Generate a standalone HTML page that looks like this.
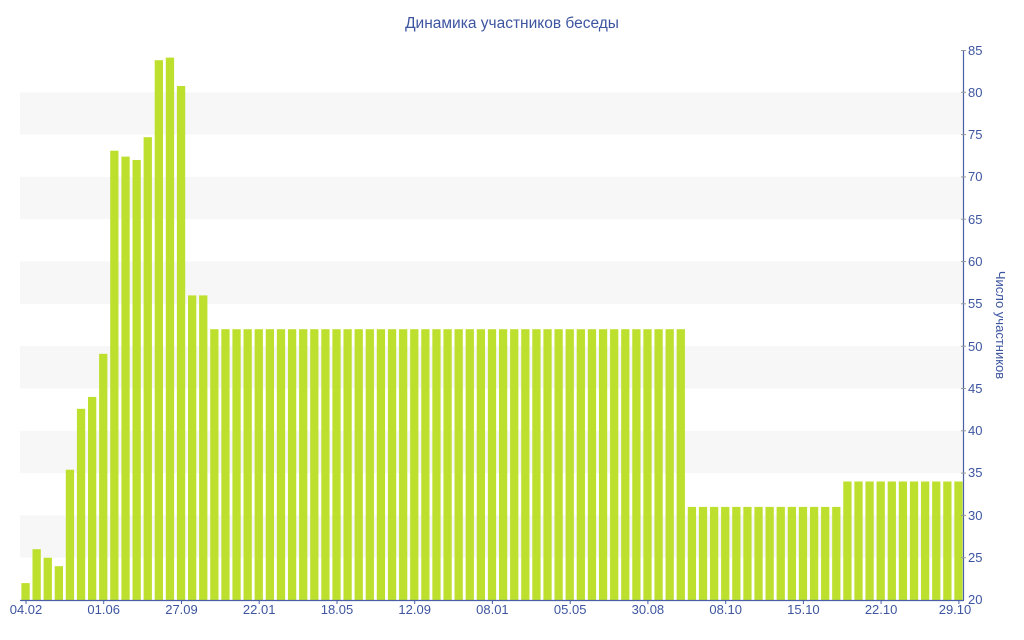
<!DOCTYPE html>
<html><head><meta charset="utf-8"><style>
html,body{margin:0;padding:0;background:#fff;}
svg{display:block;font-family:"Liberation Sans","DejaVu Sans",sans-serif;}
</style></head><body>
<svg width="1024" height="640" viewBox="0 0 1024 640" xmlns="http://www.w3.org/2000/svg">
<defs>
<pattern id="bp" x="20" y="0" width="11.106" height="640" patternUnits="userSpaceOnUse">
<rect x="1.4" y="0" width="8.3" height="640" fill="#bde02e"/>
</pattern>
</defs>
<g fill="#f7f7f7">
<rect x="20" y="92.3" width="944" height="42.3"/>
<rect x="20" y="176.9" width="944" height="42.3"/>
<rect x="20" y="261.5" width="944" height="42.3"/>
<rect x="20" y="346.2" width="944" height="42.3"/>
<rect x="20" y="430.8" width="944" height="42.3"/>
<rect x="20" y="515.4" width="944" height="42.3"/>
</g>
<text x="512" y="28" text-anchor="middle" font-size="15.5" fill="#3d55a0">Динамика участников беседы</text>
<g fill="#bde02e">
<rect x="21.4" y="583.1" width="8.3" height="16.9"/>
<rect x="32.5" y="549.2" width="8.3" height="50.8"/>
<rect x="43.6" y="557.7" width="8.3" height="42.3"/>
<rect x="54.7" y="566.2" width="8.3" height="33.8"/>
<rect x="65.8" y="469.7" width="8.3" height="130.3"/>
<rect x="76.9" y="408.8" width="8.3" height="191.2"/>
<rect x="88.0" y="396.9" width="8.3" height="203.1"/>
<rect x="99.1" y="353.8" width="8.3" height="246.2"/>
<rect x="110.2" y="150.7" width="8.3" height="449.3"/>
<rect x="121.4" y="156.6" width="8.3" height="443.4"/>
<rect x="132.5" y="160" width="8.3" height="440"/>
<rect x="143.6" y="137.2" width="8.3" height="462.8"/>
<rect x="154.7" y="60.2" width="8.3" height="539.8"/>
<rect x="165.8" y="57.6" width="8.3" height="542.4"/>
<rect x="176.9" y="86" width="8.3" height="514"/>
<rect x="188.0" y="295.4" width="8.3" height="304.6"/>
<rect x="199.1" y="295.4" width="8.3" height="304.6"/>
</g>
<rect x="208.8" y="329.2" width="477.6" height="270.8" fill="url(#bp)"/>
<rect x="686.4" y="506.9" width="155.4" height="93.1" fill="url(#bp)"/>
<rect x="841.8" y="481.5" width="122.2" height="118.5" fill="url(#bp)"/>
<g stroke="#4a5fa8" stroke-width="1.2">
<line x1="20" y1="600.5" x2="964" y2="600.5"/>
<line x1="963.5" y1="50" x2="963.5" y2="600"/>
</g>
<g stroke="#4a5fa8" stroke-width="1">
<line x1="26" y1="600" x2="26" y2="604"/>
<line x1="103.7" y1="600" x2="103.7" y2="604"/>
<line x1="181.5" y1="600" x2="181.5" y2="604"/>
<line x1="259.2" y1="600" x2="259.2" y2="604"/>
<line x1="337" y1="600" x2="337" y2="604"/>
<line x1="414.7" y1="600" x2="414.7" y2="604"/>
<line x1="492.4" y1="600" x2="492.4" y2="604"/>
<line x1="570.2" y1="600" x2="570.2" y2="604"/>
<line x1="647.9" y1="600" x2="647.9" y2="604"/>
<line x1="725.7" y1="600" x2="725.7" y2="604"/>
<line x1="803.4" y1="600" x2="803.4" y2="604"/>
<line x1="881.1" y1="600" x2="881.1" y2="604"/>
<line x1="958.9" y1="600" x2="958.9" y2="604"/>
</g>
<g stroke="#999" stroke-width="1">
<line x1="961" y1="50.5" x2="966" y2="50.5"/>
<line x1="961" y1="92.3" x2="966" y2="92.3"/>
<line x1="961" y1="134.6" x2="966" y2="134.6"/>
<line x1="961" y1="176.9" x2="966" y2="176.9"/>
<line x1="961" y1="219.2" x2="966" y2="219.2"/>
<line x1="961" y1="261.5" x2="966" y2="261.5"/>
<line x1="961" y1="303.8" x2="966" y2="303.8"/>
<line x1="961" y1="346.2" x2="966" y2="346.2"/>
<line x1="961" y1="388.5" x2="966" y2="388.5"/>
<line x1="961" y1="430.8" x2="966" y2="430.8"/>
<line x1="961" y1="473.1" x2="966" y2="473.1"/>
<line x1="961" y1="515.4" x2="966" y2="515.4"/>
<line x1="961" y1="557.7" x2="966" y2="557.7"/>
</g>
<g fill="#3d55a0" font-size="13">
<text x="968" y="55">85</text>
<text x="968" y="97">80</text>
<text x="968" y="139">75</text>
<text x="968" y="181">70</text>
<text x="968" y="224">65</text>
<text x="968" y="266">60</text>
<text x="968" y="308">55</text>
<text x="968" y="351">50</text>
<text x="968" y="393">45</text>
<text x="968" y="435">40</text>
<text x="968" y="477">35</text>
<text x="968" y="520">30</text>
<text x="968" y="562">25</text>
<text x="968" y="604">20</text>
</g>
<g fill="#3d55a0" font-size="13" text-anchor="middle">
<text x="26" y="614">04.02</text>
<text x="103.7" y="614">01.06</text>
<text x="181.5" y="614">27.09</text>
<text x="259.2" y="614">22.01</text>
<text x="337" y="614">18.05</text>
<text x="414.7" y="614">12.09</text>
<text x="492.4" y="614">08.01</text>
<text x="570.2" y="614">05.05</text>
<text x="647.9" y="614">30.08</text>
<text x="725.7" y="614">08.10</text>
<text x="803.4" y="614">15.10</text>
<text x="881.1" y="614">22.10</text>
<text x="955" y="614">29.10</text>
</g>
<text transform="translate(996,325) rotate(90)" text-anchor="middle" font-size="13" fill="#3d55a0">Число участников</text>
</svg>
</body></html>
